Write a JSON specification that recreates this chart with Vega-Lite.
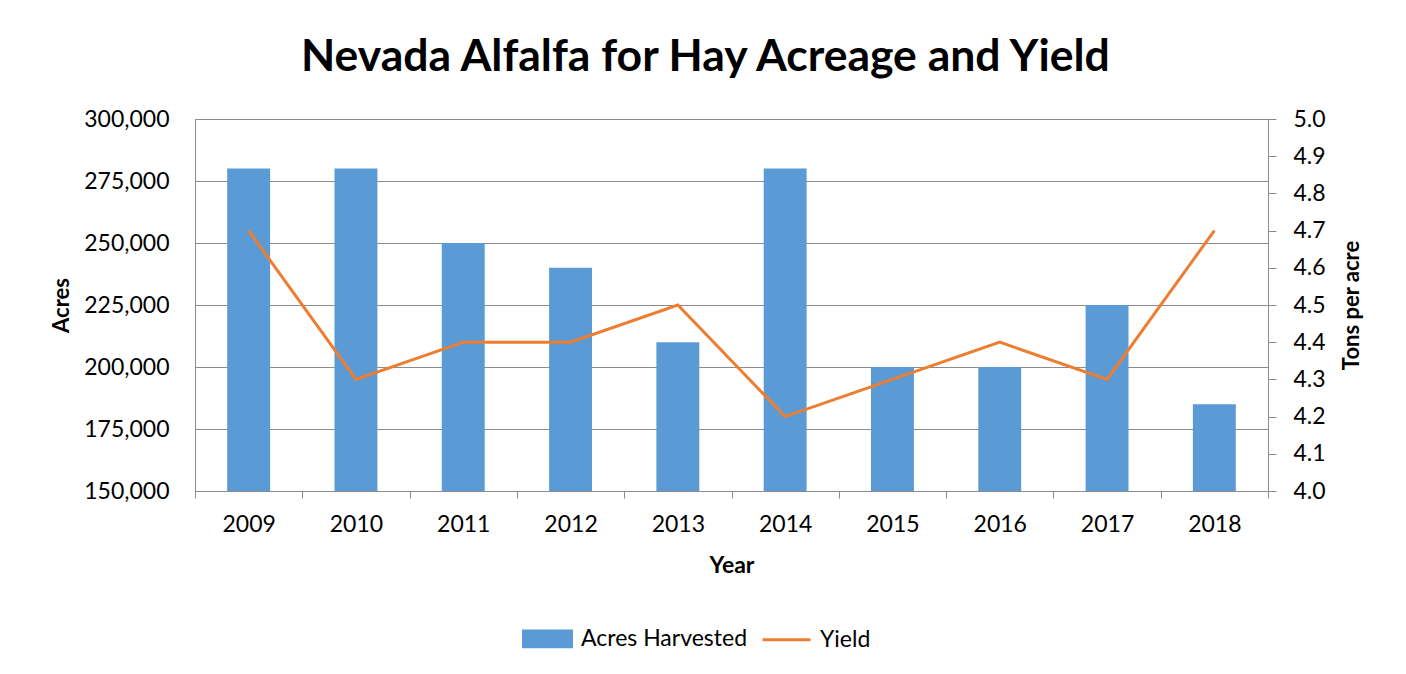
{
  "$schema": "https://vega.github.io/schema/vega-lite/v6.json",
  "width": 1073,
  "height": 372,
  "autosize": {"type": "none"},
  "padding": {"left": 195, "top": 119, "right": 138, "bottom": 183},
  "background": "white",
  "config": {
    "font": "Lato",
    "view": {"stroke": "#8c8c8c", "strokeWidth": 1},
    "axis": {"labelFont": "Lato", "labelFontSize": 23, "labelColor": "#000", "titleFont": "Lato", "titleFontSize": 23, "titleFontWeight": "bold", "titleColor": "#000", "domainColor": "#8c8c8c", "tickColor": "#8c8c8c", "gridColor": "#8c8c8c", "gridOpacity": 1}
  },
  "title": {"text": "Nevada Alfalfa for Hay Acreage and Yield", "font": "Lato", "fontSize": 44.5, "fontWeight": "bold", "color": "#000", "anchor": "middle", "frame": "bounds", "offset": 28, "dx": -1},
  "data": {"values": [
    {"year": "2009", "acres": 280000, "yield": 4.7},
    {"year": "2010", "acres": 280000, "yield": 4.3},
    {"year": "2011", "acres": 250000, "yield": 4.4},
    {"year": "2012", "acres": 240000, "yield": 4.4},
    {"year": "2013", "acres": 210000, "yield": 4.5},
    {"year": "2014", "acres": 280000, "yield": 4.2},
    {"year": "2015", "acres": 200000, "yield": 4.3},
    {"year": "2016", "acres": 200000, "yield": 4.4},
    {"year": "2017", "acres": 225000, "yield": 4.3},
    {"year": "2018", "acres": 185000, "yield": 4.7}
  ]},
  "encoding": {
    "x": {"field": "year", "type": "nominal", "title": "Year",
      "scale": {"paddingInner": 0, "paddingOuter": 0},
      "axis": {"labelAngle": 0, "tickBand": "extent", "tickSize": 7, "labelPadding": 15, "titlePadding": 18, "grid": false}}
  },
  "layer": [
    {
      "mark": {"type": "bar", "clip": true, "width": {"band": 0.4}},
      "encoding": {
        "y": {"field": "acres", "type": "quantitative", "title": "Acres",
          "scale": {"domain": [150000, 300000], "zero": false, "nice": false},
          "axis": {"values": [150000, 175000, 200000, 225000, 250000, 275000, 300000], "format": ",.0f", "ticks": false, "grid": true, "labelPadding": 26, "titlePadding": 10, "titleFontSize": 22}},
        "color": {"datum": "Acres Harvested", "type": "nominal",
          "scale": {"domain": ["Acres Harvested", "Yield"], "range": ["#5B9BD5", "#ED7D31"]},
          "legend": {
            "orient": "none", "legendX": 327, "legendY": 494, "direction": "horizontal", "title": null,
            "labelFont": "Lato", "labelFontSize": 23, "labelColor": "#000", "labelLimit": 400,
            "symbolSize": 2300, "columnPadding": 8, "labelOffset": 8, "symbolStrokeWidth": 3,
            "encode": {"symbols": {"update": {
              "shape": {"signal": "datum.value === 'Yield' ? 'M-1,0H1' : 'M-1,-0.33H1V0.33H-1Z'"},
              "fill": {"signal": "datum.value === 'Yield' ? 'transparent' : '#5B9BD5'"},
              "stroke": {"signal": "datum.value === 'Yield' ? '#ED7D31' : 'transparent'"},
              "strokeWidth": {"value": 3},
              "opacity": {"value": 1}
            }}}
          }}
      }
    },
    {
      "mark": {"type": "line", "strokeWidth": 3},
      "encoding": {
        "y": {"field": "yield", "type": "quantitative", "title": "Tons per acre",
          "scale": {"domain": [4, 5], "zero": false, "nice": false},
          "axis": {"orient": "right", "values": [4.0, 4.1, 4.2, 4.3, 4.4, 4.5, 4.6, 4.7, 4.8, 4.9, 5.0], "format": ".1f", "grid": false, "tickSize": 8, "labelPadding": 17, "titlePadding": 16, "titleFontSize": 22, "titleAngle": 270, "titleBaseline": "top"}},
        "color": {"datum": "Yield", "type": "nominal"}
      }
    }
  ],
  "resolve": {"scale": {"y": "independent"}}
}
